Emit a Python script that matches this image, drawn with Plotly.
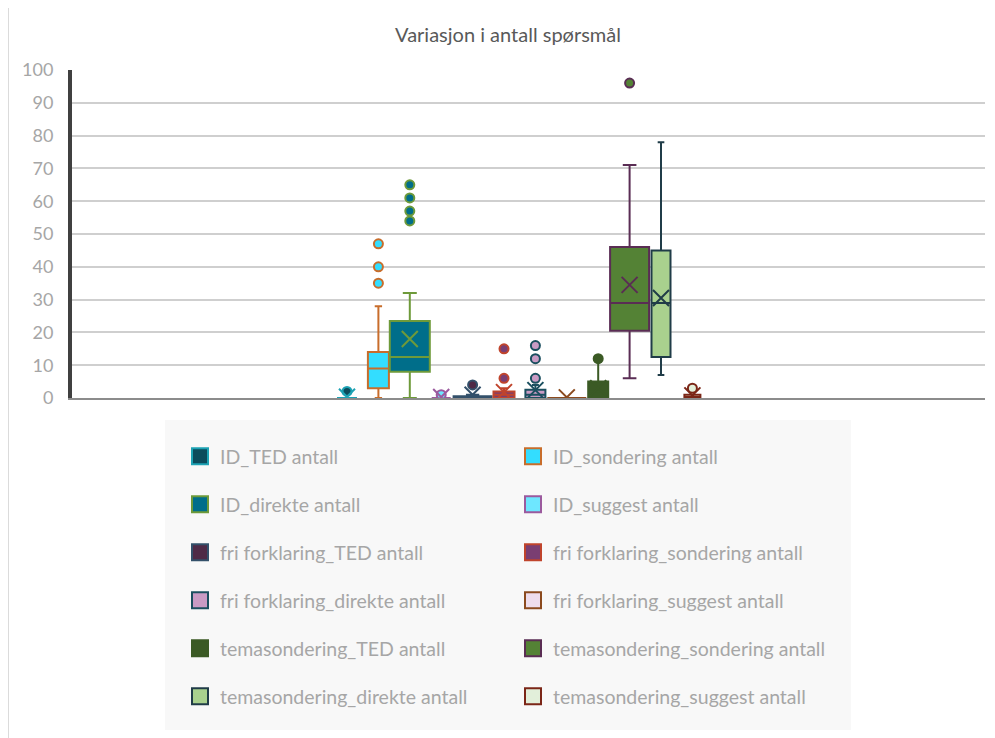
import plotly.graph_objects as go

# ---------------- data ----------------
series_names = [
    "ID_TED antall", "ID_sondering antall", "ID_direkte antall", "ID_suggest antall",
    "fri forklaring_TED antall", "fri forklaring_sondering antall",
    "fri forklaring_direkte antall", "fri forklaring_suggest antall",
    "temasondering_TED antall", "temasondering_sondering antall",
    "temasondering_direkte antall", "temasondering_suggest antall",
]
q1_vals = [0, 3, 8, 0, 0, 0, 0, 0, 0, 20.5, 12.5, 0]
median_vals = [0, 9, 12.5, 0, 0, 1, 1, 0, 2, 29, 29, 0]
q3_vals = [0, 14, 23.5, 0, 0.5, 2, 2.5, 0, 5, 46, 45, 1]
lower_vals = [0, 0, 0, 0, 0, 0, 0, 0, 0, 6, 7, 0]
upper_vals = [0, 28, 32, 0, 1, 3, 4, 0, 11, 71, 78, 1]
mean_vals = [0.4, None, 18, 0.3, 1, 1.8, 2.4, 0.2, 3, 34.5, 30.5, 0.8]
outlier_vals = [
    [2], [35, 40, 47], [54, 57, 61, 65], [1],
    [4], [6, 15], [6, 12, 16], [],
    [12], [96], [], [3],
]
y_ticks = list(range(0, 101, 10))
title_text = "Variasjon i antall spørsmål"

# ---------------- style ----------------
fill_colors = ["#0B4B5C", "#33DDFF", "#006E8A", "#6EE7FF",
               "#4E2A47", "#7A3E72", "#C99BC4", "#EEDDEC",
               "#3B5A25", "#548235", "#A9D18E", "#E2EFDA"]
line_colors = ["#1DA2B4", "#C86D2B", "#6E9A3A", "#9B5A9E",
               "#33506A", "#C0442C", "#1B4F5F", "#8B4A1E",
               "#3B5A25", "#5A2D54", "#203C48", "#7B2617"]
box_widths_px = [20, 21, 40, 19, 38, 21, 20, 39, 20, 39, 19, 16]

W, H = 995, 738
OFF = 8  # page body margin offset
# target screen positions of plot area
PL, PR, PT, PB = 72, 985, 70, 398
ML = PL - OFF
MT = PT - OFF
MR = W - (PR - OFF)
MB = H - (PB - OFF)
plot_w = PR - PL
plot_h = PB - PT
unit_px = 31.4          # horizontal spacing between series
first_px = 347          # screen position of first series
x_range = [-(first_px - PL) / unit_px, (PR - first_px) / unit_px]

FONT = "Lato"
GREY_TXT = "#A6A6A6"

def px_to_paper_x(px):
    return (px - PL) / plot_w

def px_to_paper_y(py):
    return (PB - py) / plot_h

fig = go.Figure()

for i, name in enumerate(series_names):
    fig.add_trace(go.Box(
        x=[i], q1=[q1_vals[i]], median=[median_vals[i]], q3=[q3_vals[i]],
        lowerfence=[lower_vals[i]], upperfence=[upper_vals[i]],
        width=box_widths_px[i] / unit_px,
        fillcolor=fill_colors[i],
        line=dict(color=line_colors[i], width=2),
        whiskerwidth=0.35,
        boxpoints=False,
        name=name, showlegend=False, hoverinfo="y",
    ))
    if outlier_vals[i]:
        fig.add_trace(go.Scatter(
            x=[i] * len(outlier_vals[i]), y=outlier_vals[i], mode="markers",
            marker=dict(symbol="circle", size=9, color=fill_colors[i],
                        line=dict(color=line_colors[i], width=2)),
            showlegend=False, hoverinfo="y", name=name,
        ))
    if mean_vals[i] is not None:
        fig.add_trace(go.Scatter(
            x=[i], y=[mean_vals[i]], mode="markers",
            marker=dict(symbol="x-thin-open", size=16, color=line_colors[i],
                        line=dict(color=line_colors[i], width=2)),
            showlegend=False, hoverinfo="y", name=name,
        ))

# legend entries (two columns -> two legends)
for i, name in enumerate(series_names):
    fig.add_trace(go.Scatter(
        x=[None], y=[None], mode="markers",
        marker=dict(symbol="square", size=18, color=fill_colors[i],
                    line=dict(color=line_colors[i], width=2)),
        name=name, legendgroup=name,
        legend="legend" if i % 2 == 0 else "legend2",
        showlegend=True,
    ))

LEG_FONT = 19.5
legend_common = dict(
    orientation="v", yanchor="top", xanchor="left",
    bgcolor="rgba(0,0,0,0)", borderwidth=0,
    font=dict(family=FONT, size=LEG_FONT, color=GREY_TXT),
    tracegroupgap=48 - (LEG_FONT * 1.3 + 3), itemclick=False, itemdoubleclick=False,
)

fig.update_layout(
    width=W, height=H,
    margin=dict(l=ML, r=MR, t=MT, b=MB),
    paper_bgcolor="white", plot_bgcolor="white",
    boxmode="overlay",
    title=dict(text=title_text, x=(508 - OFF) / W, xanchor="center",
               y=1 - (35 - OFF) / H, yanchor="middle", yref="container",
               font=dict(family=FONT, size=20, color="#595959")),
    xaxis=dict(range=x_range, showticklabels=False, showgrid=False,
               zeroline=False, showline=True, linecolor="#8C8C8C",
               linewidth=2, ticks=""),
    yaxis=dict(range=[0, 100], tickvals=y_ticks, showgrid=True,
               gridcolor="#CFCFCF", gridwidth=2, zeroline=False,
               showline=True, linecolor="#404040", linewidth=4,
               ticks="outside", ticklen=11, tickcolor="rgba(0,0,0,0)",
               tickfont=dict(family=FONT, size=18, color=GREY_TXT)),
    legend=dict(x=px_to_paper_x(180), y=px_to_paper_y(437), **legend_common),
    legend2=dict(x=px_to_paper_x(513), y=px_to_paper_y(437), **legend_common),
    shapes=[
        dict(type="rect", xref="paper", yref="paper",
             x0=px_to_paper_x(165), x1=px_to_paper_x(851),
             y0=px_to_paper_y(730), y1=px_to_paper_y(420),
             fillcolor="#F8F8F8", line=dict(width=0), layer="below"),
        dict(type="rect", xref="paper", yref="paper",
             x0=px_to_paper_x(8), x1=px_to_paper_x(1010),
             y0=px_to_paper_y(760), y1=px_to_paper_y(6),
             fillcolor="rgba(0,0,0,0)", line=dict(color="#CFCFCF", width=1.5),
             layer="below"),
    ],
    hovermode="closest",
)

fig.write_html("out.html")
